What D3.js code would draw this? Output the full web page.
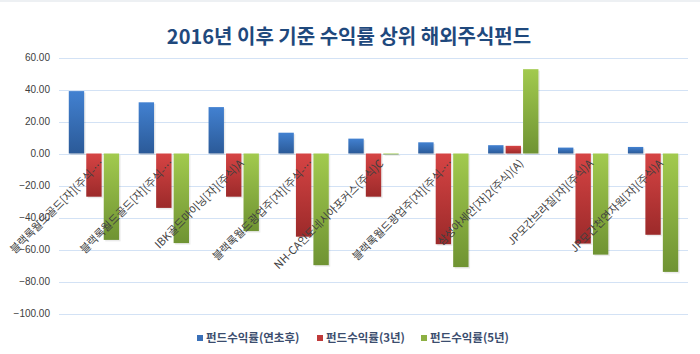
<!DOCTYPE html>
<html>
<head>
<meta charset="utf-8">
<script src="https://cdn.jsdelivr.net/npm/d3@7"></script>
<style>
  body { margin: 0; background: #fff; }
  svg { display: block; font-family: "Noto Sans CJK KR", "Noto Sans", sans-serif; }
</style>
</head>
<body>
<div id="chart"></div>
<script>
// Fund names (x categories)
const funds = [
    "블랙록월드골드[자](주식-…",
    "블랙록월드골드[자](주식-…",
    "IBK골드마이닝[자](주식)A",
    "블랙록월드광업주[자](주식-…",
    "NH-CA인도네시아포커스(주식)C",
    "블랙록월드광업주[자](주식-…",
    "삼성아세안[자]2(주식)(A)",
    "JP모간브라질[자](주식)A",
    "JP모간천연자원[자](주식)A"
];

// Series values (%)
const ytd   = [39.0, 32.0, 29.0, 13.0, 9.3, 7.0, 5.2, 3.7, 4.1];
const ret3y = [-27.0, -34.0, -27.0, -52.0, -27.0, -56.7, 4.8, -56.3, -50.8];
const ret5y = [-54.0, -56.0, -48.5, -69.8, -0.6, -71.0, 52.7, -63.2, -74.0];

const seriesNames = ["펀드수익률(연초후)", "펀드수익률(3년)", "펀드수익률(5년)"];
const yTicks = [60, 40, 20, 0, -20, -40, -60, -80, -100];

const width = 700, height = 354;
const margin = { top: 57.5, right: 12, bottom: 40, left: 59 };

const svg = d3.select("#chart")
    .append("svg")
    .attr("width", width)
    .attr("height", height);

// Gradients for the Excel-like bars
const defs = svg.append("defs");
const grads = [
    { id: "g0", top: "#4281d1", bottom: "#2b5a98" },
    { id: "g1", top: "#d64444", bottom: "#9c2a2a" },
    { id: "g2", top: "#a2ca4e", bottom: "#6f9333" }
];
grads.forEach(g => {
    const lg = defs.append("linearGradient")
        .attr("id", g.id)
        .attr("x1", 0).attr("y1", 0).attr("x2", 0).attr("y2", 1);
    lg.append("stop").attr("offset", "0%").attr("stop-color", g.top);
    lg.append("stop").attr("offset", "100%").attr("stop-color", g.bottom);
});
const legendColors = ["#3a70b8", "#c03a3a", "#8db043"];

// top strip left over from the sheet
svg.append("rect")
    .attr("x", 0).attr("y", 0)
    .attr("width", width).attr("height", 2)
    .attr("fill", "#edf0f3");

// Title
svg.append("text")
    .attr("x", 349)
    .attr("y", 44)
    .attr("text-anchor", "middle")
    .attr("font-size", "20px")
    .attr("font-weight", "bold")
    .attr("fill", "#1f497d")
    .text("2016년 이후 기준 수익률 상위 해외주식펀드");

// Scales
const y = d3.scaleLinear()
    .domain([60, -100])
    .range([margin.top, margin.top + 160 * 1.6]);

const x = d3.scaleBand()
    .domain(d3.range(funds.length))
    .range([margin.left, width - margin.right])
    .paddingInner(0.22)
    .paddingOuter(0.11);

const xs = d3.scaleBand()
    .domain([0, 1, 2])
    .range([0, x.bandwidth()])
    .padding(0.12);

// Gridlines
svg.append("g")
    .selectAll("line")
    .data(yTicks)
    .join("line")
    .attr("x1", margin.left)
    .attr("x2", width - margin.right)
    .attr("y1", d => Math.round(y(d)) + 0.5)
    .attr("y2", d => Math.round(y(d)) + 0.5)
    .attr("stroke", "#d3e2f5")
    .attr("stroke-width", 1);

// Y axis labels
const yAxis = svg.append("g")
    .attr("transform", `translate(${margin.left},0)`)
    .call(d3.axisLeft(y).tickValues(yTicks).tickFormat(d3.format(".2f")).tickSize(0).tickPadding(9));
yAxis.select(".domain").remove();
yAxis.selectAll("text")
    .attr("font-family", "'Liberation Sans', Arial, sans-serif")
    .attr("font-size", "10px")
    .attr("fill", "#404040");

// Bars
const series = [ytd, ret3y, ret5y];
series.forEach((vals, s) => {
    const g = svg.append("g");
    // soft shadow
    g.selectAll("rect.shadow")
        .data(vals)
        .join("rect")
        .attr("class", "shadow")
        .attr("x", (d, i) => x(i) + xs(s) + 1.5)
        .attr("y", d => Math.min(y(d), y(0)) + 1.5)
        .attr("width", xs.bandwidth())
        .attr("height", d => Math.abs(y(d) - y(0)))
        .attr("fill", "#000")
        .attr("opacity", 0.08);
    g.selectAll("rect.bar")
        .data(vals)
        .join("rect")
        .attr("class", "bar")
        .attr("x", (d, i) => x(i) + xs(s))
        .attr("y", d => Math.min(y(d), y(0)))
        .attr("width", xs.bandwidth())
        .attr("height", d => Math.abs(y(d) - y(0)))
        .attr("fill", `url(#g${s})`);
});

// Category labels, rotated
svg.append("g")
    .selectAll("text")
    .data(funds)
    .join("text")
    .attr("transform", (d, i) => `translate(${x(i) + x.bandwidth() / 2 + 8},${y(0) + 8}) rotate(-45)`)
    .attr("text-anchor", "end")
    .attr("dy", "0.35em")
    .attr("font-size", "11px")
    .attr("fill", "#404040")
    .text(d => d);

// Legend
const legendX = [197, 317, 421];
const legend = svg.append("g");
seriesNames.forEach((name, i) => {
    legend.append("rect")
        .attr("x", legendX[i])
        .attr("y", 335)
        .attr("width", 6).attr("height", 6)
        .attr("fill", legendColors[i]);
    legend.append("text")
        .attr("x", legendX[i] + 9)
        .attr("y", 342)
        .attr("font-size", "11.5px")
        .attr("font-weight", "bold")
        .attr("fill", "#3b4d6e")
        .text(name);
});
</script>
</body>
</html>
